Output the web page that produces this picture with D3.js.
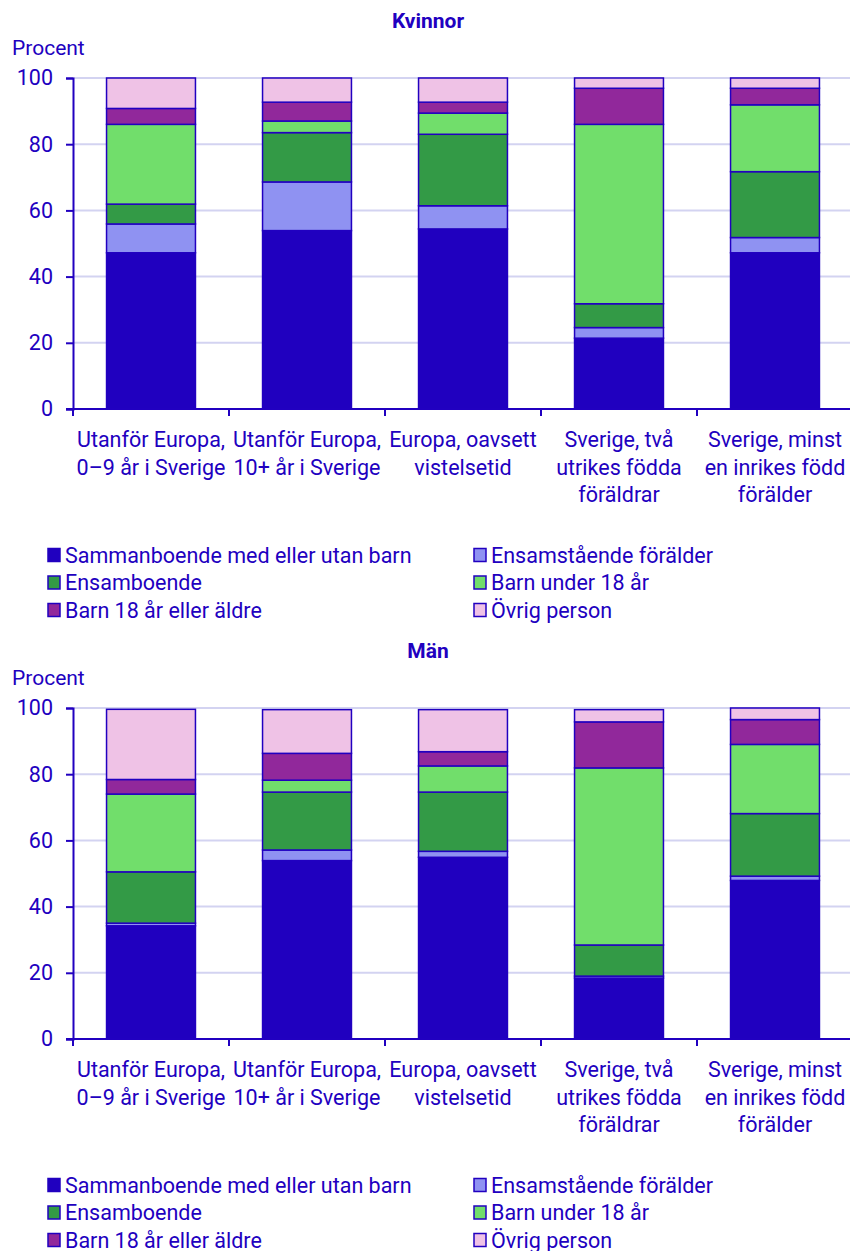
<!DOCTYPE html>
<html>
<head>
<meta charset="utf-8">
<script src="https://cdn.jsdelivr.net/npm/d3@7"></script>
<style>
  body { margin: 0; background: #fff; }
  text { font-family: Roboto, "Noto Sans", sans-serif; fill: #2100c0; }
</style>
</head>
<body>
<svg id="chart"></svg>
<script>
const width = 850,
  height = 1251,
  panelOffset = 630,
  margin = {top: 78, left: 73, right: -3, bottom: 842},
  inkColor = '#2100c0',
  gridColor = '#d3d3f1',
  labelSize = '21.5px'

// categories, split into label lines
const categories = [
  ['Utanför Europa,', '0–9 år i Sverige'],
  ['Utanför Europa,', '10+ år i Sverige'],
  ['Europa, oavsett', 'vistelsetid'],
  ['Sverige, två', 'utrikes födda', 'föräldrar'],
  ['Sverige, minst', 'en inrikes född', 'förälder']
]

const seriesNames = [
  'Sammanboende med eller utan barn',
  'Ensamstående förälder',
  'Ensamboende',
  'Barn under 18 år',
  'Barn 18 år eller äldre',
  'Övrig person'
]
const seriesColors = ['#2000bf', '#8f92f2', '#339a46', '#71de6b', '#91289b', '#efc2e6']

// Kvinnor
const womenSammanboende = [47.2, 53.9, 54.4, 21.4, 47.2]
const womenEnsamstaende = [8.7, 14.7, 7.0, 3.2, 4.6]
const womenEnsamboende = [6.0, 14.9, 21.6, 7.2, 19.9]
const womenBarnUnder18 = [24.1, 3.5, 6.4, 54.2, 20.2]
const womenBarn18 = [4.8, 5.7, 3.3, 10.9, 5.0]
const womenOvrig = [9.2, 7.3, 7.3, 3.1, 3.1]

// Män
const menSammanboende = [34.2, 53.9, 54.9, 18.4, 47.9]
const menEnsamstaende = [0.8, 3.2, 1.8, 0.6, 1.3]
const menEnsamboende = [15.5, 17.5, 17.9, 9.4, 18.9]
const menBarnUnder18 = [23.5, 3.6, 7.9, 53.5, 20.9]
const menBarn18 = [4.4, 8.1, 4.3, 13.9, 7.5]
const menOvrig = [21.2, 13.2, 12.7, 3.7, 3.5]

const yTicks = [0, 20, 40, 60, 80, 100]

const svg = d3.select('#chart')
  .attr('width', width)
  .attr('height', height)

function toRows(series) {
  return categories.map((c, i) => {
    const row = {idx: i}
    seriesNames.forEach((s, j) => row[s] = series[j][i])
    return row
  })
}

function drawPanel(offsetY, title, series) {
  const g = svg.append('g').attr('transform', `translate(0,${offsetY})`)
  const plotBottom = 409

  const x = d3.scaleBand()
    .domain(d3.range(categories.length))
    .range([margin.left, 853])
    .paddingInner(0.43)
    .paddingOuter(0.215)

  const y = d3.scaleLinear()
    .domain([0, 100])
    .range([plotBottom, margin.top])

  // title + unit
  g.append('text')
    .attr('x', 428).attr('y', 28)
    .attr('text-anchor', 'middle')
    .style('font-weight', 'bold')
    .style('font-size', '21px')
    .text(title)

  g.append('text')
    .attr('x', 12).attr('y', 55)
    .style('font-size', '21px')
    .text('Procent')

  // gridlines
  g.append('g')
    .selectAll('line')
    .data(yTicks.filter(d => d > 0))
    .join('line')
    .attr('x1', margin.left).attr('x2', width)
    .attr('y1', d => y(d)).attr('y2', d => y(d))
    .attr('stroke', gridColor)
    .attr('stroke-width', 2)

  // stacked bars
  const stacked = d3.stack().keys(seriesNames)(toRows(series))
  g.append('g')
    .selectAll('g')
    .data(stacked)
    .join('g')
    .attr('fill', (d, i) => seriesColors[i])
    .selectAll('rect')
    .data(d => d)
    .join('rect')
    .attr('x', d => x(d.data.idx))
    .attr('width', x.bandwidth())
    .attr('y', d => y(d[1]))
    .attr('height', d => y(d[0]) - y(d[1]))
    .attr('stroke', inkColor)
    .attr('stroke-width', 1.5)

  // y axis
  const yAxis = g.append('g')
    .attr('transform', `translate(${margin.left},0)`)
    .call(d3.axisLeft(y).tickValues(yTicks).tickSize(7).tickPadding(13))
  yAxis.select('.domain').attr('stroke', inkColor).attr('stroke-width', 2)
  yAxis.selectAll('.tick line').attr('stroke', inkColor).attr('stroke-width', 2)
  yAxis.selectAll('.tick text')
    .attr('fill', inkColor)
    .style('font-size', '21.5px')
    .style('font-family', 'Roboto, sans-serif')

  // x axis line and boundary ticks
  const boundaries = d3.range(categories.length + 1)
    .map(i => (i < categories.length ? x(i) : x(i - 1) + x.step()) - x.step() * x.paddingInner() / 2)
  g.append('line')
    .attr('x1', margin.left - 7).attr('x2', width)
    .attr('y1', plotBottom).attr('y2', plotBottom)
    .attr('stroke', inkColor).attr('stroke-width', 2)
  g.append('g')
    .selectAll('line')
    .data(boundaries)
    .join('line')
    .attr('x1', d => d).attr('x2', d => d)
    .attr('y1', plotBottom).attr('y2', plotBottom + 7)
    .attr('stroke', inkColor).attr('stroke-width', 2)

  // category labels
  g.append('g')
    .selectAll('text')
    .data(categories)
    .join('text')
    .attr('text-anchor', 'middle')
    .style('font-size', labelSize)
    .attr('transform', (d, i) => `translate(${x(i) + x.bandwidth() / 2},447)`)
    .selectAll('tspan')
    .data(d => d)
    .join('tspan')
    .attr('x', 0)
    .attr('y', (d, i) => i * 27.5)
    .text(d => d)

  // legend
  const legend = g.append('g')
    .selectAll('g')
    .data(seriesNames)
    .join('g')
    .attr('transform', (d, i) => `translate(${i % 2 === 0 ? 48 : 474},${555 + Math.floor(i / 2) * 27.5})`)
  legend.append('rect')
    .attr('x', 0).attr('y', -6.5)
    .attr('width', 12).attr('height', 13)
    .attr('fill', (d, i) => seriesColors[i])
    .attr('stroke', inkColor)
    .attr('stroke-width', 1.5)
  legend.append('text')
    .attr('x', 17).attr('y', 7.5)
    .style('font-size', labelSize)
    .text(d => d)
}

drawPanel(0, 'Kvinnor', [womenSammanboende, womenEnsamstaende, womenEnsamboende, womenBarnUnder18, womenBarn18, womenOvrig])
drawPanel(panelOffset, 'Män', [menSammanboende, menEnsamstaende, menEnsamboende, menBarnUnder18, menBarn18, menOvrig])
</script>
</body>
</html>
